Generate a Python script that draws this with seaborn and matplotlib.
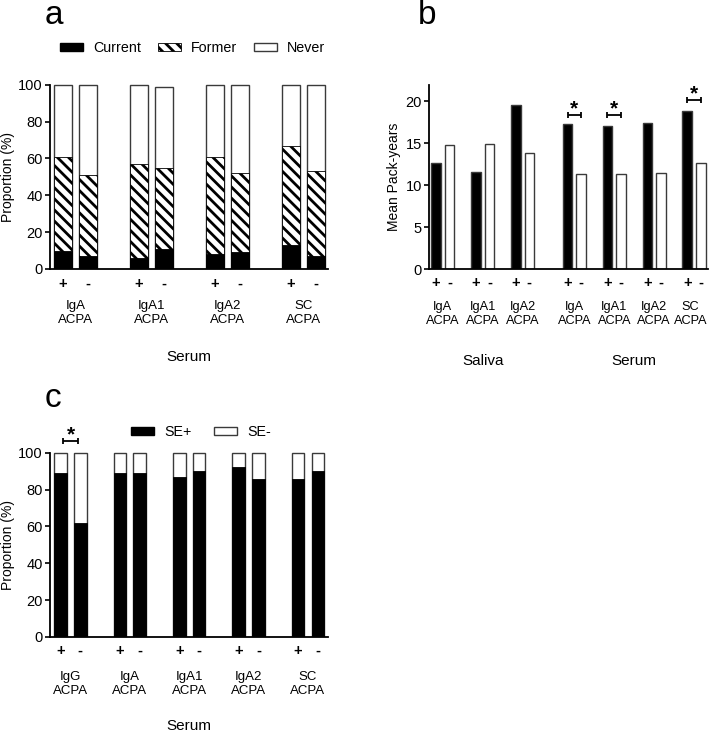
import numpy as np
import pandas as pd
import matplotlib
matplotlib.use("Agg")
import matplotlib.pyplot as plt
from matplotlib.patches import Patch
import seaborn as sns

# ---------------- data ----------------
signs = ["+", "-"]

groups_a = ["IgA\nACPA", "IgA1\nACPA", "IgA2\nACPA", "SC\nACPA"]
current_a = [10, 7, 6, 11, 8, 9, 13, 7]
former_a = [51, 44, 51, 44, 53, 43, 54, 46]
never_a = [39, 49, 43, 44, 39, 48, 33, 47]
legend_a = ["Current", "Former", "Never"]

groups_b = ["IgA\nACPA", "IgA1\nACPA", "IgA2\nACPA",
            "IgA\nACPA", "IgA1\nACPA", "IgA2\nACPA", "SC\nACPA"]
sources_b = ["Saliva", "Saliva", "Saliva", "Serum", "Serum", "Serum", "Serum"]
packyears_pos = [12.7, 11.6, 19.6, 17.3, 17.1, 17.4, 18.8]
packyears_neg = [14.8, 14.9, 13.9, 11.3, 11.4, 11.5, 12.7]
sig_b = [None, None, None, 18.4, 18.4, None, 20.2]   # bracket heights

groups_c = ["IgG\nACPA", "IgA\nACPA", "IgA1\nACPA", "IgA2\nACPA", "SC\nACPA"]
se_pos = [89, 62, 89, 89, 87, 90, 92, 86, 86, 90]
se_neg = [11, 38, 11, 11, 13, 10, 8, 14, 14, 10]
sig_c = [106.2, None, None, None, None]
legend_c = ["SE+", "SE-"]

# ---------------- style ----------------
sns.set_theme(style="ticks")
plt.rcParams["font.family"] = ["Liberation Sans", "DejaVu Sans"]
plt.rcParams["hatch.linewidth"] = 2.0
plt.rcParams["axes.linewidth"] = 1.3
plt.rcParams["axes.edgecolor"] = "black"
plt.rcParams["ytick.color"] = "black"
plt.rcParams["xtick.color"] = "black"
plt.rcParams["text.color"] = "black"

W, H = 709, 735
fig = plt.figure(figsize=(W / 100, H / 100), dpi=100)


def ax_px(left, right, top, bottom):
    return fig.add_axes([left / W, 1 - bottom / H, (right - left) / W, (bottom - top) / H])


def px2pt(p):
    return p * 0.72


EDGE = "#3a3a3a"
HATCH = "\\\\\\"


def style_axis(ax, yticks, ylim, spine_top, pad_sign):
    sns.despine(ax=ax)
    ax.set_ylim(*ylim)
    ax.set_yticks(yticks)
    ax.spines["left"].set_bounds(0, spine_top)
    ax.tick_params(axis="y", direction="out", length=3.6, width=1.2, labelsize=10.5, pad=1.5)
    ax.tick_params(axis="x", length=0, labelsize=10.5, pad=pad_sign)
    for t in ax.get_xticklabels():
        t.set_fontweight("bold")
    ax.set_xlabel("")
    ax.set_ylabel("")


def group_text(ax, centers, labels, off_px, fs=9.5, shifts=None):
    shifts = shifts or [0] * len(centers)
    for c, lab, s in zip(centers, labels, shifts):
        ax.annotate(lab, xy=(c, 0), xycoords=ax.get_xaxis_transform(),
                    xytext=(px2pt(s), -px2pt(off_px)), textcoords="offset points",
                    ha="center", va="center", fontsize=fs, linespacing=1.2,
                    annotation_clip=False)


def bracket(ax, x1, x2, y):
    ax.errorbar([(x1 + x2) / 2], [y], xerr=[(x2 - x1) / 2], fmt="none",
                ecolor="black", elinewidth=1.3, capsize=2.0, capthick=1.3, clip_on=False)
    ax.annotate("*", xy=((x1 + x2) / 2, y), xytext=(0, 0.5), textcoords="offset points",
                ha="center", va="baseline", fontsize=15, fontweight="bold",
                annotation_clip=False)


# ---------------- panel a ----------------
axA = ax_px(50, 328, 269 - 100.5 * 1.842, 269)
pos_a = []
for g in range(len(groups_a)):
    pos_a += [3 * g, 3 * g + 1]
cur = np.array(current_a)
cf = cur + np.array(former_a)
tot = cf + np.array(never_a)
common = dict(native_scale=True, width=0.69, saturation=1, errorbar=None, ax=axA)
sns.barplot(x=pos_a, y=tot, color="white", edgecolor=EDGE, linewidth=1.0, **common)
sns.barplot(x=pos_a, y=cf, color="white", edgecolor="black", linewidth=0.6, hatch=HATCH, **common)
sns.barplot(x=pos_a, y=cur, color="black", edgecolor="black", linewidth=0.6, **common)
axA.set_xlim(-0.51, 10.47)
axA.set_xticks(pos_a)
axA.set_xticklabels(signs * len(groups_a))
style_axis(axA, [0, 20, 40, 60, 80, 100], (0, 100.5), 100, px2pt(8))
group_text(axA, [3 * g + 0.5 for g in range(len(groups_a))], groups_a, 44)
axA.annotate("Serum", xy=(0.5, 0), xycoords="axes fraction", xytext=(0, -px2pt(88)),
             textcoords="offset points", ha="center", va="center", fontsize=11)
fig.text(8 / W, 1 - 177 / H, "Proportion (%)", rotation=90, ha="center", va="center", fontsize=10)
fig.text(45 / W, 1 - 24 / H, "a", fontsize=24, va="baseline", ha="left")
handles_a = [Patch(facecolor="black", edgecolor="black"),
             Patch(facecolor="white", edgecolor="black", hatch=HATCH, linewidth=0.6),
             Patch(facecolor="white", edgecolor=EDGE, linewidth=1.0)]
fig.legend(handles_a, legend_a, loc="center left", bbox_to_anchor=(60 / W, 1 - 48 / H),
           ncol=3, frameon=False, fontsize=10.3, handlelength=1.6, handleheight=0.55,
           handletextpad=0.7, columnspacing=1.2, borderpad=0, borderaxespad=0)

# ---------------- panel b ----------------
axB = ax_px(429, 708, 269.3 - 22 * 8.4, 269.3)
gpos_b = [0, 1, 2, 3.3, 4.3, 5.3, 6.3]
off = 0.17
df_b = pd.DataFrame({
    "x": [g - off for g in gpos_b] + [g + off for g in gpos_b],
    "y": packyears_pos + packyears_neg,
    "sign": ["+"] * len(gpos_b) + ["-"] * len(gpos_b),
})
sns.barplot(data=df_b, x="x", y="y", hue="sign", palette={"+": "black", "-": "white"},
            native_scale=True, dodge=False, width=0.24 / (2 * off), saturation=1,
            edgecolor=EDGE, linewidth=1.0, errorbar=None, legend=False, ax=axB)
axB.set_xlim(-0.345, 6.65)
xt_b = sorted(df_b["x"].tolist())
axB.set_xticks(xt_b)
axB.set_xticklabels(signs * len(gpos_b))
style_axis(axB, [0, 5, 10, 15, 20], (0, 22), 22, px2pt(6.8))
group_text(axB, gpos_b, groups_b, 45, fs=9.2, shifts=[0, 0, 0, 0, 0, 0, -3.5])
for src in ["Saliva", "Serum"]:
    xs = [g for g, s in zip(gpos_b, sources_b) if s == src]
    axB.annotate(src, xy=(np.mean(xs), 0), xycoords=axB.get_xaxis_transform(),
                 xytext=(0, -px2pt(92)), textcoords="offset points",
                 ha="center", va="center", fontsize=11, annotation_clip=False)
for g, h in zip(gpos_b, sig_b):
    if h is not None:
        bracket(axB, g - off, g + off, h)
fig.text(394 / W, 1 - 177 / H, "Mean Pack-years", rotation=90, ha="center", va="center", fontsize=10)
fig.text(418 / W, 1 - 24 / H, "b", fontsize=24, va="baseline", ha="left")

# ---------------- panel c ----------------
axC = ax_px(50, 328, 637 - 100.5 * 1.843, 637)
pos_c = []
for g in range(len(groups_c)):
    pos_c += [3 * g, 3 * g + 1]
sp = np.array(se_pos)
tot_c = sp + np.array(se_neg)
common_c = dict(native_scale=True, width=0.64, saturation=1, errorbar=None, ax=axC)
sns.barplot(x=pos_c, y=tot_c, color="white", edgecolor=EDGE, linewidth=1.0, **common_c)
sns.barplot(x=pos_c, y=sp, color="black", edgecolor="black", linewidth=0.6, **common_c)
axC.set_xlim(-0.53, 13.51)
axC.set_xticks(pos_c)
axC.set_xticklabels(signs * len(groups_c))
style_axis(axC, [0, 20, 40, 60, 80, 100], (0, 100.5), 100, px2pt(6.8))
group_text(axC, [3 * g + 0.5 for g in range(len(groups_c))], groups_c, 47)
axC.annotate("Serum", xy=(0.5, 0), xycoords="axes fraction", xytext=(0, -px2pt(89)),
             textcoords="offset points", ha="center", va="center", fontsize=11)
for g, h in enumerate(sig_c):
    if h is not None:
        bracket(axC, 3 * g + 0.14, 3 * g + 0.9, h)
fig.text(8 / W, 1 - 545 / H, "Proportion (%)", rotation=90, ha="center", va="center", fontsize=10)
fig.text(45 / W, 1 - 407 / H, "c", fontsize=24, va="baseline", ha="left")
handles_c = [Patch(facecolor="black", edgecolor="black"),
             Patch(facecolor="white", edgecolor=EDGE, linewidth=1.0)]
fig.legend(handles_c, legend_c, loc="center left", bbox_to_anchor=(131 / W, 1 - 432 / H),
           ncol=2, frameon=False, fontsize=10.3, handlelength=1.6, handleheight=0.55,
           handletextpad=0.7, columnspacing=1.6, borderpad=0, borderaxespad=0)

fig.savefig("out.png", dpi=100)
